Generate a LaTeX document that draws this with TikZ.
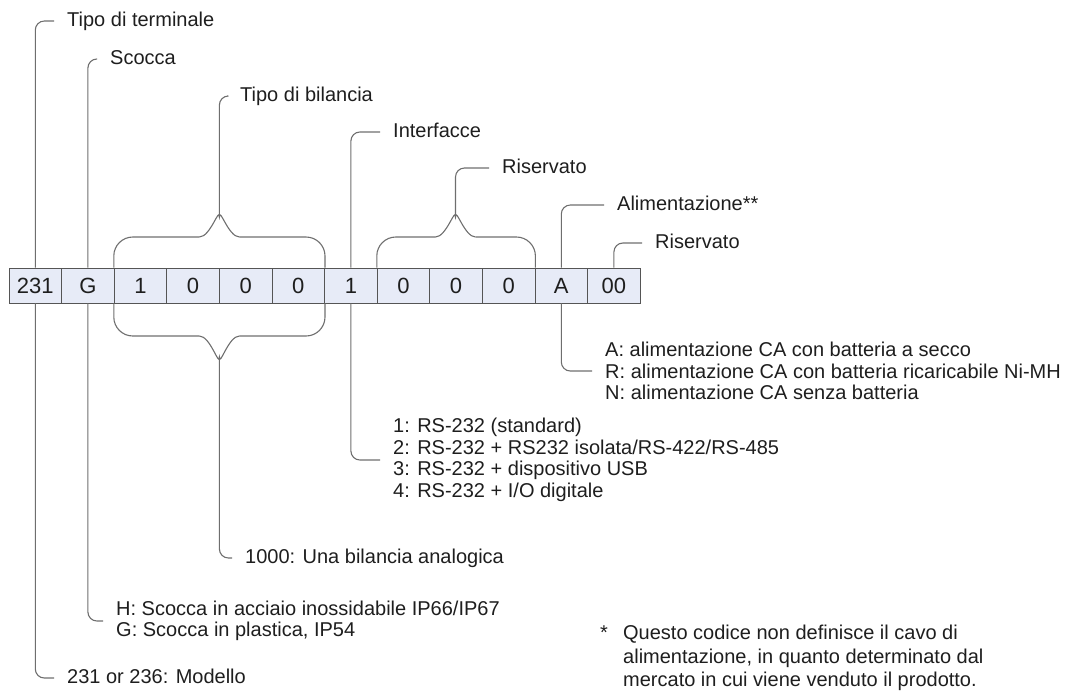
\documentclass[tikz,border=0pt]{standalone}
\usepackage{fontspec}
\setmainfont{Liberation Sans}
\definecolor{linec}{RGB}{110,110,110}
\definecolor{txtc}{RGB}{30,30,30}
\definecolor{boxfill}{RGB}{231,235,247}
\definecolor{boxline}{RGB}{85,85,85}
\begin{document}
\begin{tikzpicture}[x=1pt,y=-1pt,
  ln/.style={draw=linec, line width=1.1pt, rounded corners=9pt},
  bline/.style={draw=linec, line width=1.1pt, rounded corners=19pt},
  bcurve/.style={draw=linec, line width=1.1pt},
  lbl/.style={anchor=west, inner xsep=13pt, inner ysep=0pt, text=txtc,
    font=\fontsize{20}{21.5}\selectfont, text height=14pt, text depth=4pt},
  mlbl/.style={anchor=west, inner xsep=13pt, inner ysep=0pt, text=txtc,
    font=\fontsize{20}{21.5}\selectfont, align=left},
  cell/.style={draw=boxline, fill=boxfill, line width=0.8pt,
    minimum width=52.6pt, minimum height=35pt, inner sep=0pt,
    text=txtc, font=\fontsize{22}{24}\selectfont}]
\useasboundingbox (0,0) rectangle (1067,694);

% code cells
\foreach \t [count=\i] in {231,G,1,0,0,0,1,0,0,0,A,00}
  \node[cell] (c\i) at ({9+52.6*(\i-0.5)},285.5) {\t};

% top labels
\node[lbl] (t1) at (54,21)  {Tipo di terminale};
\node[lbl] (t2) at (97,59)  {Scocca};
\node[lbl] (t3) at (227,96) {Tipo di bilancia};
\node[lbl] (t4) at (380,132) {Interfacce};
\node[lbl] (t5) at (489,168) {Riservato};
\node[lbl] (t6) at (604,205) {Alimentazione**};
\node[lbl] (t7) at (642,243) {Riservato};

% bottom labels
\node[mlbl] (l11) at (592,371) {A: alimentazione CA con batteria a secco\\
  R: alimentazione CA con batteria ricaricabile Ni-MH\\
  N: alimentazione CA senza batteria};
\node[mlbl] (l7) at (380,460) {1: RS-232 (standard)\\
  2: RS-232 + RS232 isolata/RS-422/RS-485\\
  3: RS-232 + dispositivo USB\\
  4: RS-232 + I/O digitale};
\node[lbl] (l3) at (232,558) {1000: Una bilancia analogica};
\node[mlbl] (l2) at (103,621) {H: Scocca in acciaio inossidabile IP66/IP67\\
  G: Scocca in plastica, IP54};
\node[lbl] (l1) at (54,678) {231 or 236: Modello};

% footnote
\node[anchor=west, inner sep=0pt, text=txtc, align=left,
  font=\fontsize{20}{23.5}\selectfont] (fn) at (600,658)
  {\makebox[23pt][l]{*}Questo codice non definisce il cavo di\\
   \hspace*{23pt}alimentazione, in quanto determinato dal\\
   \hspace*{23pt}mercato in cui viene venduto il prodotto.};

% brace tips and ends
\coordinate (bt1) at (219.4,217);
\coordinate (bt1l) at (199.4,237);
\coordinate (bt1r) at (239.4,237);
\coordinate (bb1) at (219.4,357);
\coordinate (bb1l) at (199.4,336);
\coordinate (bb1r) at (239.4,336);
\coordinate (bt2) at (455.5,217);
\coordinate (bt2l) at (435.5,237);
\coordinate (bt2r) at (475.5,237);

% simple connectors
\draw[ln] (c1.north) |- (t1.west);
\draw[ln] (c2.north) |- (t2.west);
\draw[ln] (c7.north) |- (t4.west);
\draw[ln] (c11.north) |- (t6.west);
\draw[ln] (c12.north) |- (t7.west);
\draw[ln] (c1.south) |- (l1.west);
\draw[ln] (c2.south) |- (l2.west);
\draw[ln] (c7.south) |- (l7.west);
\draw[ln] (c11.south) |- (l11.west);

% brace over 1000 (top)
\draw[bline] (c3.north west) |- (bt1l);
\draw[bline] (c6.north east) |- (bt1r);
\draw[bcurve] (bt1l) .. controls ([xshift=11pt]bt1l) and ([yshift=11pt]bt1) .. (bt1)
  .. controls ([yshift=11pt]bt1) and ([xshift=-11pt]bt1r) .. (bt1r);
\draw[ln] (bt1) |- (t3.west);
% brace under 1000 (bottom)
\draw[bline] (c3.south west) |- (bb1l);
\draw[bline] (c6.south east) |- (bb1r);
\draw[bcurve] (bb1l) .. controls ([xshift=11pt]bb1l) and ([yshift=-11pt]bb1) .. (bb1)
  .. controls ([yshift=-11pt]bb1) and ([xshift=-11pt]bb1r) .. (bb1r);
\draw[ln] (bb1) |- (l3.west);
% brace over 000 (reserved)
\draw[bline] (c8.north west) |- (bt2l);
\draw[bline] (c10.north east) |- (bt2r);
\draw[bcurve] (bt2l) .. controls ([xshift=11pt]bt2l) and ([yshift=11pt]bt2) .. (bt2)
  .. controls ([yshift=11pt]bt2) and ([xshift=-11pt]bt2r) .. (bt2r);
\draw[ln] (bt2) |- (t5.west);
\end{tikzpicture}
\end{document}
